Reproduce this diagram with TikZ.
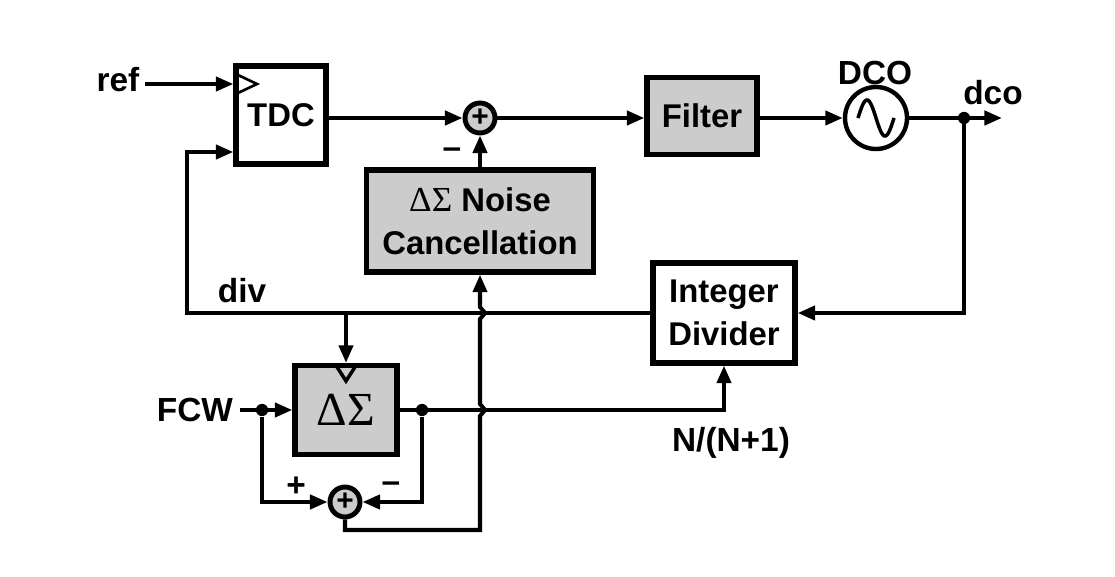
\documentclass[tikz,border=0pt]{standalone}
\usepackage{fontspec}
\setmainfont{Liberation Sans}
\newfontfamily\grk{Liberation Serif}
\usetikzlibrary{arrows.meta,calc}
\definecolor{boxgray}{HTML}{CCCCCC}
\begin{document}
\begin{tikzpicture}[x=0.02cm,y=-0.02cm,
  wire/.style={line width=2.3pt},
  arr/.style={wire,-{Triangle[length=10pt,width=8pt]}},
  blk/.style={draw,line width=3pt,rectangle,inner sep=0pt,font=\fontsize{18.7}{24.5}\selectfont\bfseries,align=center},
  gblk/.style={blk,fill=boxgray},
  sumn/.style={draw,circle,line width=2.8pt,fill=boxgray,minimum size=0.6cm,inner sep=0pt,font=\fontsize{17}{17}\selectfont\bfseries},
  lbl/.style={font=\fontsize{19}{22}\selectfont\bfseries,inner sep=0pt},
  dot/.style={circle,fill,inner sep=0pt,minimum size=7pt}]
\useasboundingbox (0,0) rectangle (1115,577);
% blocks
\node[blk,minimum width=1.8cm,minimum height=1.96cm] (tdc) at (281,115) {TDC};
\node[sumn] (s1) at (480,118) {+};
\node[gblk,minimum width=2.2cm,minimum height=1.54cm] (filter) at (702,116) {Filter};
\node[draw,circle,line width=2.5pt,minimum size=1.24cm,inner sep=0pt] (dco) at (876,118) {};
\node[gblk,minimum width=4.54cm,minimum height=2.04cm] (nc) at (480,221) {{\grk\mdseries\fontsize{20}{24.5}\selectfont ΔΣ} Noise\\Cancellation};
\node[blk,minimum width=2.84cm,minimum height=2.0cm] (div) at (724,313) {Integer\\Divider};
\node[gblk,minimum width=2.04cm,minimum height=1.78cm] (ds) at (346,410) {\grk\mdseries\fontsize{27}{27}\selectfont ΔΣ};
\node[sumn] (s2) at (345,502) {+};
% sine in DCO
\draw[line width=2pt,domain=0:360,samples=50] plot ({858+\x/10}, {118-18*sin(\x)});
% clock mark and notch
\draw[line width=1.5pt] (238,75) -- (257,84) -- (238,93);
\draw[line width=2pt] (337,367) -- (346,381) -- (355,367);
% labels
\node[lbl] (lref) at (118,80) {ref};
\node[lbl] (ldco) at (875,73) {DCO};
\node[lbl] (ldcoo) at (993,93) {dco};
\node[lbl] (ldiv) at (242,291) {div};
\node[lbl] (lfcw) at (195,410) {FCW};
\node[lbl] (ln) at (731,443) {N/(N+1)};
\node[lbl] (lm1) at (452,153) {–};
\node[lbl] (lp2) at (296,487) {+};
\node[lbl] (lm2) at (391,487) {–};
% coordinates
\coordinate (refin) at (145,84);
\coordinate (tap) at (964,118);
\coordinate (dcoout) at (1002,118);
\coordinate (dl) at (187,152);
\coordinate (fcwin) at (240,410);
\node[dot] (d1) at (262,410) {};
\node[dot] (d2) at (422,410) {};
\node[dot] (d3) at (tap) {};
% connectors
\draw[arr] (refin) -- (refin -| tdc.west);
\draw[arr] (tdc.east |- s1) -- (s1.west);
\draw[arr] (s1.east) -- (s1.east -| filter.west);
\draw[arr] (filter.east |- dco) -- (dco.west);
\draw[arr] (dco.east) -- (dcoout);
\draw[arr] (tap) |- (div.east);
\draw[arr] (div.west) -| (dl) -- (dl -| tdc.west);
\draw[arr] (ds.north |- div.west) -- (ds.north);
\draw[arr] (nc.north) -- (s1.south);
\draw[arr] (fcwin) -- (ds.west);
\draw[arr] (d1) |- (s2.west);
\draw[arr] (ds.east) -| (div.south);
\draw[arr] (d2) |- (s2.east);
\draw[arr] (s2.south) |- (480,530) -- (480,416) -- (485,410) -- (480,404) -- (480,319) -- (485,313) -- (480,307) -- (nc.south);
\end{tikzpicture}
\end{document}
